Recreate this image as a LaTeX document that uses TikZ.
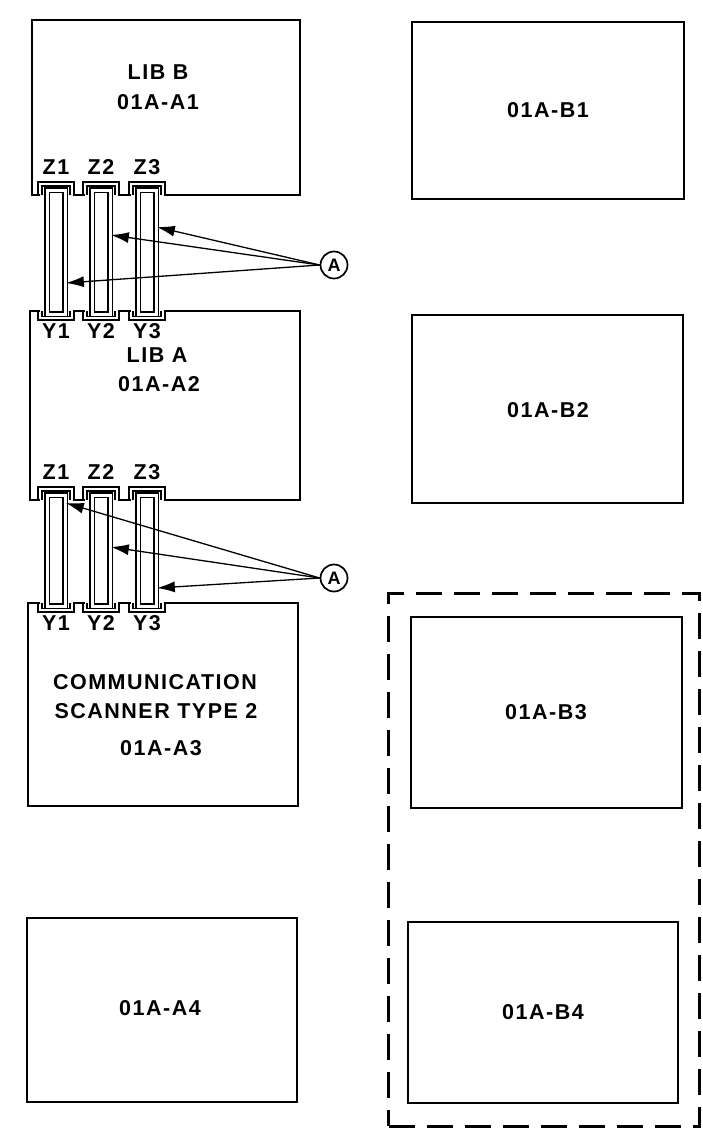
\documentclass[tikz,border=0pt]{standalone}
\usepackage{fontspec}
\setmainfont{Liberation Sans}[LetterSpace=7.0]
\usetikzlibrary{arrows.meta,calc,positioning}

\begin{document}
\begin{tikzpicture}[x=1pt, y=-1pt,
  font=\bfseries\fontsize{21.5}{25}\selectfont, inner sep=1pt,
  unit/.style={draw, line width=2.7pt, inner sep=0pt},
  frame/.style={draw, line width=3pt, dash pattern=on 26pt off 12pt, inner sep=0pt},
  bar/.style={draw, fill=white, double, line width=1.7pt, double distance=3pt, minimum width=18pt, inner sep=0pt},
  socket/.style={line width=2.5pt},
  lip/.style={line width=1.5pt},
  callout/.style={draw, circle, line width=1.7pt, minimum size=27pt, inner sep=0pt, font=\bfseries\fontsize{18}{18}\selectfont},
  lead/.style={-{Latex[length=18pt, width=11pt]}, line width=1.3pt}
]
\useasboundingbox (0,0) rectangle (703,1130);

% left column
\node[unit, minimum width=268pt, minimum height=175pt] (a1) at (166,107.5) {};
\node[unit, minimum width=270pt, minimum height=189pt] (a2) at (165,405.5) {};
\node[unit, minimum width=270pt, minimum height=203pt] (a3) at (163,704.5) {};
\node[unit, minimum width=270pt, minimum height=184pt] (a4) at (162,1010) {};
% right column
\node[unit, minimum width=272pt, minimum height=177pt] (b1) at (548,110.5) {};
\node[unit, minimum width=271pt, minimum height=188pt] (b2) at (547.5,409) {};
\node[unit, minimum width=271pt, minimum height=191pt] (b3) at (546.5,712.5) {};
\node[unit, minimum width=270pt, minimum height=181pt] (b4) at (543,1012.5) {};
\node[frame, minimum width=311pt, minimum height=533pt] (grp) at (544,859.5) {};

\node at (158,72) {LIB B};
\node at (158,102) {01A-A1};
\node at (157,355) {LIB A};
\node at (159,384) {01A-A2};
\node at (155,682) {COMMUNICATION};
\node at (156,711) {SCANNER TYPE 2};
\node at (161,748) {01A-A3};
\node at (160,1008) {01A-A4};
\node at (548,110) {01A-B1};
\node at (548,410) {01A-B2};
\node at (546,712) {01A-B3};
\node at (543,1012) {01A-B4};

% cables between the boards
\foreach \yu/\yl/\k in {195/311/1, 500/603/2} {
  \foreach \cx/\n in {56/1, 101/2, 147/3} {
    \fill[white] (\cx-16.5,\yu-12) rectangle (\cx+16.5,\yu+2);
    \fill[white] (\cx-16.5,\yl-2) rectangle (\cx+16.5,\yl+8);
    \draw[socket] (\cx-18,\yu) -- (\cx-18,\yu-13) -- (\cx+18,\yu-13) -- (\cx+18,\yu);
    \draw[socket] (\cx-18,\yl) -- (\cx-18,\yl+9) -- (\cx+18,\yl+9) -- (\cx+18,\yl);
    \draw[lip] (\cx-14,\yu) -- (\cx-14,\yu-9) -- (\cx+14,\yu-9) -- (\cx+14,\yu);
    \draw[lip] (\cx-14,\yl) -- (\cx-14,\yl+5.5) -- (\cx+14,\yl+5.5) -- (\cx+14,\yl);
    \node[bar, minimum height={\yl-\yu+8}] (bar\k\n) at (\cx,{(\yu+\yl)/2-1}) {};
    \node at (\cx,\yu-28) {Z\n};
    \node at (\cx,\yl+20) {Y\n};
  }
}

% callouts
\node[callout] (ca1) at (334,265) {A};
\node[callout] (ca2) at (334,578) {A};
\draw[lead] (ca1.west) -- (bar13.east |- 0,227);
\draw[lead] (ca1.west) -- (bar12.east |- 0,235);
\draw[lead] (ca1.west) -- (bar11.east |- 0,283);
\draw[lead] (ca2.west) -- (bar21.east |- 0,503);
\draw[lead] (ca2.west) -- (bar22.east |- 0,547);
\draw[lead] (ca2.west) -- (bar23.east |- 0,588);
\end{tikzpicture}
\end{document}
